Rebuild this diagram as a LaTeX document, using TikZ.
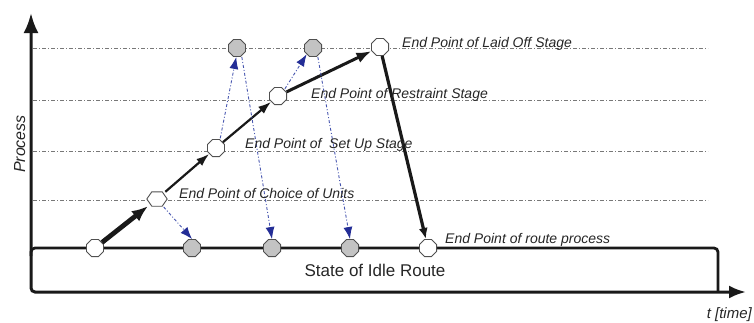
\documentclass[tikz,border=0pt]{standalone}
\usepackage{fontspec}
\setmainfont{Liberation Sans}
\usetikzlibrary{arrows.meta,shapes.geometric}
\definecolor{bluearr}{RGB}{35,45,150}
\definecolor{blueline}{RGB}{70,85,175}
\definecolor{nodeedge}{RGB}{80,80,80}
\definecolor{nodegray}{RGB}{195,195,195}
\definecolor{gridgray}{RGB}{120,120,120}
\tikzset{
  pt/.style={regular polygon, regular polygon sides=8, draw=nodeedge, line width=0.9pt, fill=white, minimum size=18.5pt, inner sep=0pt},
  gpt/.style={pt, fill=nodegray},
  hexbox/.style={rectangle, minimum width=20pt, minimum height=14pt, inner sep=0pt},
  hexline/.style={draw=nodeedge, line width=0.9pt, fill=white},
  lbl/.style={anchor=base west, font=\fontsize{14}{16}\selectfont\itshape, inner sep=0pt, text=black!85},
  gridl/.style={draw=gridgray, line width=0.9pt, dash pattern=on 4pt off 2pt on 1pt off 2pt},
  bluea/.style={draw=blueline, line width=0.9pt, dash pattern=on 3pt off 2pt on 1pt off 2pt, -{Latex[length=12pt,width=9pt,fill=bluearr,color=bluearr]}, shorten <=1pt},
  mainarr/.style={draw=black!90, -{Latex[length=13pt,width=9pt]}},
}
\begin{document}
\begin{tikzpicture}[x=1pt,y=-1pt]
\useasboundingbox (0,0) rectangle (754,322);
% grid lines
\coordinate (l1a) at (33,48);  \coordinate (l1b) at (708,48);
\coordinate (l2a) at (33,100); \coordinate (l2b) at (708,100);
\coordinate (l3a) at (33,151); \coordinate (l3b) at (708,151);
\coordinate (l4a) at (33,200); \coordinate (l4b) at (708,200);
\draw[gridl] (l1a) -- (l1b);
\draw[gridl] (l2a) -- (l2b);
\draw[gridl] (l3a) -- (l3b);
\draw[gridl] (l4a) -- (l4b);
% axes
\coordinate (ytop) at (31,13);
\coordinate (orig) at (31,292);
\coordinate (xend) at (746,292);
\draw[line width=3pt, black!90, rounded corners=4pt, {Latex[length=20pt,width=15pt]}-{Latex[length=17pt,width=13pt]}] (ytop) -- (orig) -- (xend);
% idle route box
\coordinate (r1) at (31,256);
\coordinate (r2) at (31,248);
\coordinate (r3) at (718,248);
\coordinate (r4) at (718,292);
\draw[line width=2.8pt, black!90, rounded corners=4pt] (r1) -- (r2) -- (r3) -- (r4);
% nodes
\node[pt] (a) at (95,248) {};
\node[hexbox] (choice) at (157,199) {};
\draw[hexline] (choice.west) -- ([xshift=5pt]choice.north west) -- ([xshift=-5pt]choice.north east) -- (choice.east) -- ([xshift=-5pt]choice.south east) -- ([xshift=5pt]choice.south west) -- cycle;
\node[pt] (setup) at (216,148) {};
\node[pt] (restr) at (278,96) {};
\node[pt] (laid) at (380,47) {};
\node[pt] (route) at (428,248) {};
\node[gpt] (g1t) at (237,48) {};
\node[gpt] (g2t) at (313,48) {};
\node[gpt] (gb1) at (192,248) {};
\node[gpt] (gb2) at (272,248) {};
\node[gpt] (gb3) at (350,248) {};
% main arrows
\draw[mainarr, line width=4.8pt, -{Latex[length=16pt,width=13pt]}] (a) -- (choice);
\draw[mainarr, line width=2.2pt] (choice) -- (setup);
\draw[mainarr, line width=2.2pt] (setup) -- (restr);
\draw[mainarr, line width=3pt, -{Latex[length=15pt,width=11pt]}] (restr) -- (laid);
\draw[mainarr, line width=3.2pt, -{Latex[length=11pt,width=9pt]}] (laid) -- (route);
% blue dotted arrows
\draw[bluea] (choice.-50) -- (gb1.north);
\draw[bluea] (setup.65) -- (g1t.-95);
\draw[bluea] (g1t.-60) -- (gb2.north);
\draw[bluea] (restr.north east) -- (g2t.-135);
\draw[bluea] (g2t.-60) -- (gb3.north);
% labels
\node[lbl] (tl) at (402,47.5) {End Point of Laid Off Stage};
\node[lbl] (tr) at (311,98) {End Point of Restraint Stage};
\node[lbl] (ts) at (245,148) {End Point of~\ Set Up Stage};
\node[lbl] (tc) at (179,198) {End Point of Choice of Units};
\node[lbl] (tp) at (445,243) {End Point of route process};
\node[anchor=base, font=\fontsize{17}{19}\selectfont, inner sep=0pt, text=black!85] (idle) at (375,276) {State of Idle Route};
\node[anchor=base east, font=\fontsize{15}{17}\selectfont\itshape, inner sep=0pt, text=black!85] (tt) at (752,318) {t [time]};
\node[rotate=90, anchor=base, font=\fontsize{16}{18}\selectfont\itshape, inner sep=0pt, text=black!85] (proc) at (25,144) {Process};
\end{tikzpicture}
\end{document}
